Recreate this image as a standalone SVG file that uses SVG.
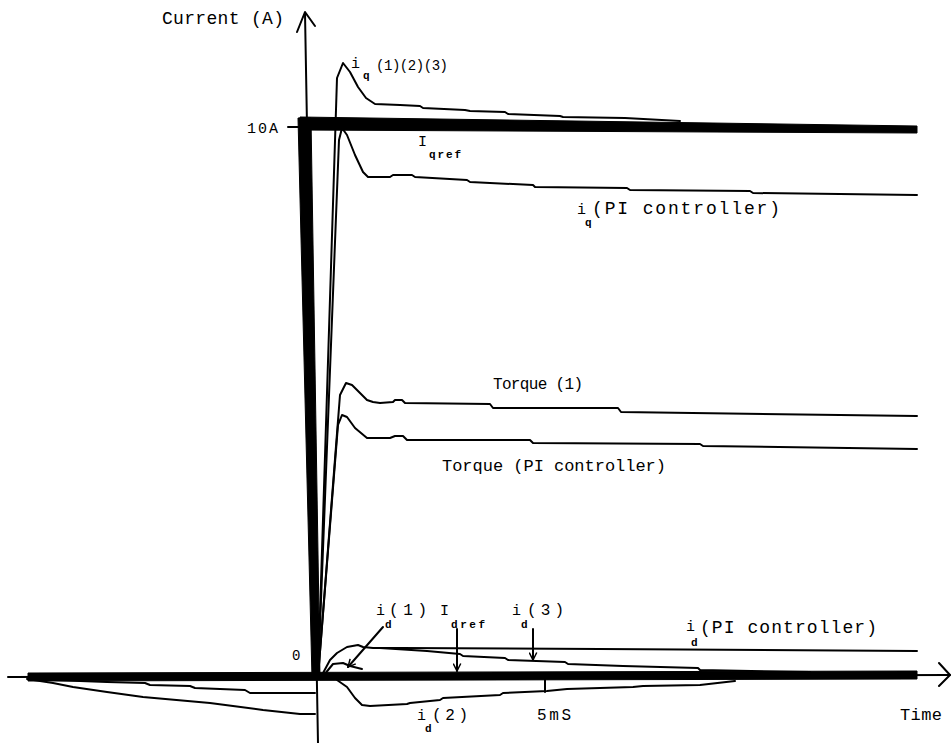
<svg xmlns="http://www.w3.org/2000/svg" width="951" height="743" viewBox="0 0 951 743">
<defs>
<style>
.t{font-family:"Liberation Mono","DejaVu Sans Mono",monospace;fill:#000}
.s{font-family:"Liberation Mono","DejaVu Sans Mono",monospace;fill:#000;font-size:11px;font-weight:bold}
.c{fill:none;stroke:#000;stroke-width:2;stroke-linejoin:round;stroke-linecap:round}
.thick{fill:#000;stroke:#000;stroke-width:1}
</style>
<marker id="ah" viewBox="0 0 12 12" refX="11" refY="6" markerWidth="9" markerHeight="9" markerUnits="userSpaceOnUse" orient="auto">
<path d="M1,1 L11,6 L1,11" fill="none" stroke="#000" stroke-width="2"/>
</marker>
</defs>
<rect width="951" height="743" fill="#fff"/>

<g id="axes">
<line class="c" x1="305" y1="13" x2="318" y2="743"/>
<path class="c" d="M297,32 L305,12 L315,26"/>
<line class="c" x1="8" y1="677" x2="950" y2="675"/>
<path class="c" d="M939,663 L950,675 L939,686"/>
<polygon class="thick" points="28,673 917,671 917,679 28,681"/>
<polygon class="thick" points="298,118 311,118 320,678 312,678"/>
<line class="c" x1="288" y1="127" x2="299" y2="127"/>
<line class="c" x1="545" y1="679" x2="545" y2="692"/>
</g>

<g id="iqref">
<polygon class="thick" points="300,117 917,126 917,133 300,130"/>
</g>

<g id="curves">
<polyline class="c" points="318,677 337,78 343,63 350,72 358,87 366,98 375,104 400,105 420,106 423,108 465,110 470,111 505,112 508,114 560,116 563,117 625,118 680,121"/>
<polyline class="c" points="318,677 339,140 342,128 347,135 355,155 363,172 368,177 390,177 393,175 412,175 415,177 467,180 470,182 533,185 535,187 627,188 630,190 750,191 753,193 917,195"/>
<polyline class="c" points="318,677 340,395 346,383 352,385 360,393 367,400 373,402 380,403 393,402 395,400 402,400 405,403 490,404 493,408 618,408 621,412 917,416"/>
<polyline class="c" points="318,677 338,425 342,415 347,417 355,428 367,438 390,438 395,436 403,436 407,440 530,440 533,443 700,444 703,446 917,449"/>
<polyline class="c" points="322,675 330,660 337,653 347,647 358,645 363,647 373,648 400,648 600,649 917,651"/>
<polyline class="c" points="380,648 427,651 460,654 463,656 505,658 508,660 565,662 568,664 623,666 698,668 700,670 810,672"/>
<polyline class="c" points="324,675 333,664 343,663 350,666 362,669"/>
<polyline class="c" points="337,680 347,687 355,698 362,705 370,706 407,704 410,703 440,700 443,698 500,695 503,693 547,691 567,689 633,687 643,686 700,685 735,681"/>
<polyline class="c" points="30,679 53,680 107,682 145,683 150,685 190,686 195,688 245,690 250,693 315,693"/>
<polyline class="c" points="27,679 53,683 73,687 107,692 143,697 210,703 233,706 263,710 300,714 315,714"/>
</g>

<g id="connectors">
<line class="c" x1="383" y1="627" x2="348" y2="667" marker-end="url(#ah)"/>
<line class="c" x1="457" y1="629" x2="457" y2="671" marker-end="url(#ah)"/>
<line class="c" x1="533" y1="629" x2="533" y2="660" marker-end="url(#ah)"/>
</g>

<g id="labels">
<text class="t" x="162" y="24" font-size="18" textLength="122">Current (A)</text>
<text class="t" x="247" y="133" font-size="15" textLength="31">10A</text>
<text class="t" x="351" y="68" font-size="15">i</text>
<text class="s" x="363" y="79">q</text>
<text class="t" x="376" y="70" font-size="14" textLength="72">(1)(2)(3)</text>
<text class="t" x="418" y="146" font-size="15">I</text>
<text class="s" x="429" y="158" textLength="32">qref</text>
<text class="t" x="577" y="214" font-size="15">i</text>
<text class="s" x="585" y="226">q</text>
<text class="t" x="592" y="214" font-size="18" textLength="188">(PI controller)</text>
<text class="t" x="493" y="389" font-size="16" textLength="90">Torque (1)</text>
<text class="t" x="442" y="471" font-size="17" textLength="224">Torque (PI controller)</text>
<text class="t" x="292" y="660" font-size="14">0</text>
<text class="t" x="376" y="615" font-size="15">i</text>
<text class="s" x="385" y="628">d</text>
<text class="t" x="389" y="615" font-size="16" textLength="38">(1)</text>
<text class="t" x="440" y="615" font-size="15">I</text>
<text class="s" x="451" y="628" textLength="34">dref</text>
<text class="t" x="512" y="615" font-size="15">i</text>
<text class="s" x="521" y="628">d</text>
<text class="t" x="527" y="615" font-size="16" textLength="37">(3)</text>
<text class="t" x="686" y="631" font-size="15">i</text>
<text class="s" x="691" y="646">d</text>
<text class="t" x="700" y="633" font-size="18" textLength="177">(PI controller)</text>
<text class="t" x="417" y="720" font-size="15">i</text>
<text class="s" x="425" y="732">d</text>
<text class="t" x="432" y="720" font-size="16" textLength="36">(2)</text>
<text class="t" x="537" y="720" font-size="16" textLength="34">5mS</text>
<text class="t" x="900" y="720" font-size="17" textLength="42">Time</text>
</g>
</svg>
